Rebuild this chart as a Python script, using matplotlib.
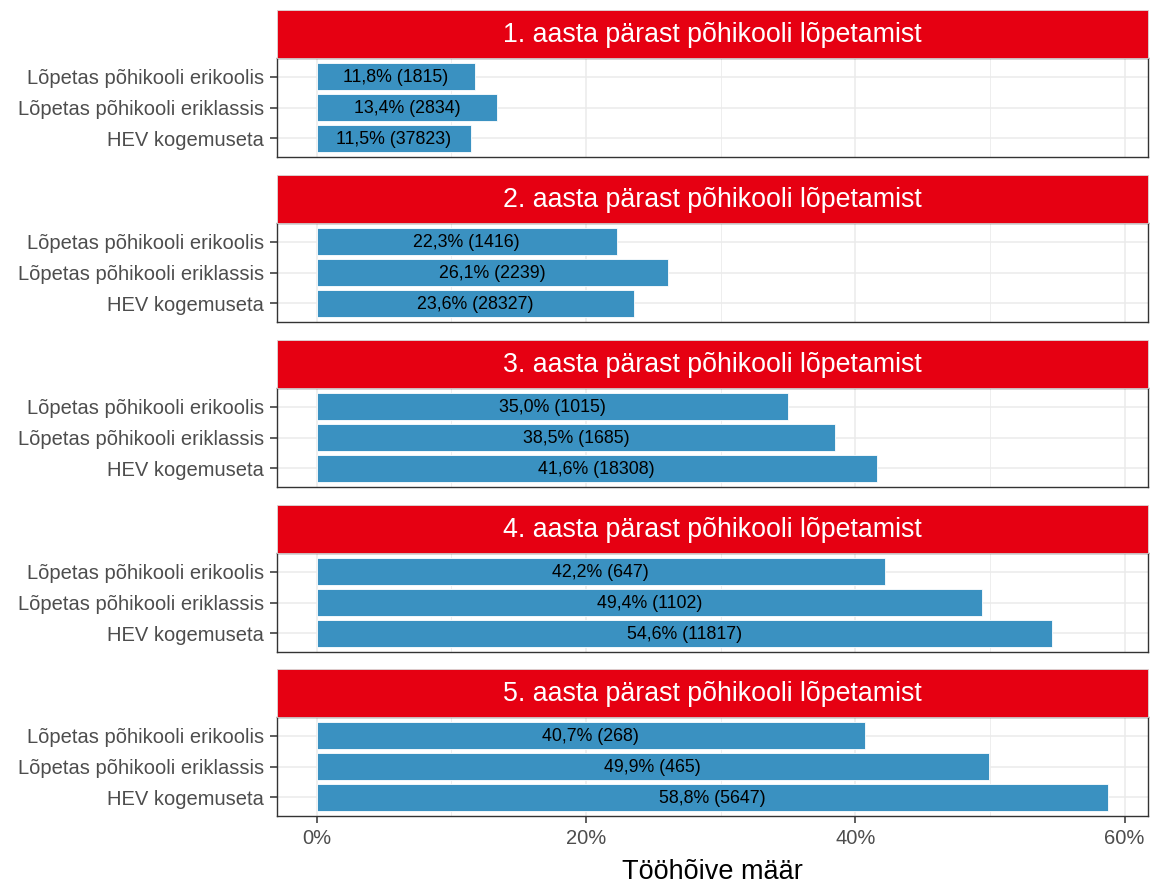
import numpy as np
import matplotlib
matplotlib.use("Agg")
import matplotlib.pyplot as plt
from matplotlib.patches import Rectangle
from matplotlib.ticker import FuncFormatter, MultipleLocator

plt.rcParams['font.family'] = ['Liberation Sans', 'DejaVu Sans']

# data
facet_titles = [
    "1. aasta pärast põhikooli lõpetamist",
    "2. aasta pärast põhikooli lõpetamist",
    "3. aasta pärast põhikooli lõpetamist",
    "4. aasta pärast põhikooli lõpetamist",
    "5. aasta pärast põhikooli lõpetamist",
]
groups = ["Lõpetas põhikooli erikoolis", "Lõpetas põhikooli eriklassis", "HEV kogemuseta"]
rate_erikool = [11.8, 22.3, 35.0, 42.2, 40.7]
n_erikool = [1815, 1416, 1015, 647, 268]
rate_eriklass = [13.4, 26.1, 38.5, 49.4, 49.9]
n_eriklass = [2834, 2239, 1685, 1102, 465]
rate_hev = [11.5, 23.6, 41.6, 54.6, 58.8]
n_hev = [37823, 28327, 18308, 11817, 5647]
x_ticks = [0, 20, 40, 60]
x_title = "Tööhõive määr"

BAR = "#3A91C1"
STRIP = "#E60012"
GRID = "#EBEBEB"
BORDER = "#333333"
TICKTXT = "#4D4D4D"

W, H = 1153, 883
fig = plt.figure(figsize=(W / 100, H / 100), dpi=100)

x_left, x_right = 277, 1148
strip_tops = [10, 175, 340, 505, 669]
strip_h = 48
panel_h = 99

all_rates = rate_erikool + rate_eriklass + rate_hev
xmax = max(all_rates)
pad = xmax * 0.05
ypos = [3, 2, 1]


def fmt_label(v, n):
    return f"{v:.1f}".replace(".", ",") + f"% ({n})"


for i, title in enumerate(facet_titles):
    top = strip_tops[i]
    # strip
    fig.patches.append(Rectangle((x_left / W, 1 - (top + strip_h) / H),
                                 (x_right - x_left) / W, strip_h / H,
                                 transform=fig.transFigure, facecolor=STRIP,
                                 edgecolor="#D9D9D9", linewidth=0.6, zorder=0))
    fig.text((x_left + x_right) / 2 / W, 1 - (top + strip_h / 2 + 1) / H, title,
             color="white", fontsize=19.3, ha="center", va="center")

    ax = fig.add_axes([x_left / W, 1 - (top + strip_h + panel_h) / H,
                       (x_right - x_left) / W, panel_h / H])
    vals = [rate_erikool[i], rate_eriklass[i], rate_hev[i]]
    ns = [n_erikool[i], n_eriklass[i], n_hev[i]]
    ax.barh(ypos, vals, height=0.9, color=BAR, edgecolor="white",
            linewidth=0.6, zorder=2)
    for y, v, n in zip(ypos, vals, ns):
        ax.text(v / 2, y - 0.04, fmt_label(v, n), ha="center", va="center",
                fontsize=12.8, color="black", zorder=3)

    ax.set_xlim(-pad, xmax + pad)
    ax.set_ylim(0.4, 3.6)
    ax.set_yticks(ypos)
    ax.set_yticklabels(groups)
    ax.xaxis.set_major_locator(MultipleLocator(20))
    ax.xaxis.set_minor_locator(MultipleLocator(10))
    ax.grid(which="major", color=GRID, linewidth=1.1, zorder=0)
    ax.grid(which="minor", axis="x", color=GRID, linewidth=0.6, zorder=0)
    ax.set_axisbelow(True)
    for s in ax.spines.values():
        s.set_color(BORDER)
        s.set_linewidth(1.0)
    ax.tick_params(axis="y", labelsize=14.5, labelcolor=TICKTXT, color=BORDER,
                   length=5, width=1.1, pad=4.5)
    ax.tick_params(axis="x", which="minor", length=0)
    if i < len(facet_titles) - 1:
        ax.tick_params(axis="x", which="major", length=0, labelbottom=False)
    else:
        ax.set_xticks(x_ticks)
        ax.xaxis.set_major_formatter(FuncFormatter(lambda v, p: f"{v:.0f}%"))
        ax.tick_params(axis="x", which="major", labelsize=14.5,
                       labelcolor=TICKTXT, color=BORDER, length=5, width=1.1, pad=4)
        ax.set_xlabel(x_title, fontsize=19.5, color="black", labelpad=8)

fig.savefig("out.png", dpi=100, facecolor="white")
